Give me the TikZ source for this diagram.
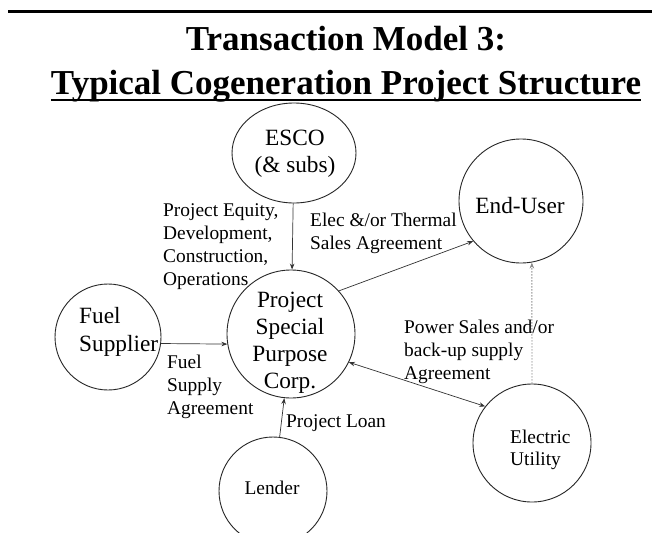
\documentclass[tikz,border=0pt]{standalone}
\usepackage{fontspec}
\setmainfont{Liberation Serif}
\usetikzlibrary{arrows.meta,shapes.geometric}
\begin{document}
\begin{tikzpicture}[x=1pt,y=-1pt,
  party/.style={draw=black!85, line width=0.9pt, inner sep=0pt},
  small/.style={inner sep=0pt, font=\fontsize{19.4}{22.7}\selectfont, align=left},
  big/.style={inner sep=0pt, font=\fontsize{23.3}{27}\selectfont},
  headline/.style={inner sep=0pt, font=\fontsize{35}{40}\selectfont\bfseries},
  tip/.tip={Stealth[length=6pt,width=4.5pt]},
  link/.style={draw=black!80, line width=0.7pt, -tip},
  backup/.style={draw=black!45, line width=0.9pt, dash pattern=on 1.5pt off 1.5pt, -tip}
]
\useasboundingbox[fill=white] (0,0) rectangle (652,532);

% heading
\draw[line width=3pt] (8,12) -- (652,12);
\node[headline, anchor=base] (t1) at (346,51) {Transaction Model 3:};
\node[headline, anchor=base] (t2) at (346,95) {Typical Cogeneration Project Structure};
\draw[line width=2.5pt] ([yshift=-5pt]t2.base west) -- ([yshift=-5pt]t2.base east);

% parties
\node[party, ellipse, minimum width=124pt, minimum height=100pt] (esco) at (294,153) {};
\node[party, circle, minimum size=128pt] (proj) at (291,334) {};
\node[party, circle, minimum size=106pt] (fuel) at (108,337) {};
\node[party, circle, minimum size=124pt] (eu) at (521,201) {};
\node[party, circle, minimum size=118pt] (elec) at (532,443) {};
\node[party, circle, minimum size=108pt] (lender) at (273,491) {};

% party names (multi-line nodes are placed by the baseline of their last line)
\node[big, align=center, anchor=base] (escoT) at (295,172) {ESCO\\(\& subs)};
\node[big, align=center, anchor=base] (projT) at (290,388) {Project\\Special\\Purpose\\Corp.};
\node[big, align=left, anchor=base west, font=\fontsize{23.3}{28}\selectfont] (fuelT) at (79,351) {Fuel\\Supplier};
\node[big, anchor=base] (euT) at (520,213) {End-User};
\node[small, anchor=base west, font=\fontsize{19.4}{22}\selectfont] (elecT) at (510,465) {Electric\\Utility};
\node[small, anchor=base] (lenderT) at (272,494) {Lender};

% agreements
\node[small, anchor=base west] (equity) at (163,285) {Project Equity,\\Development,\\Construction,\\Operations};
\node[small, anchor=base west, font=\fontsize{19.4}{23.5}\selectfont] (sales) at (310,249.5) {Elec \&/or Thermal\\Sales Agreement};
\node[small, anchor=base west, font=\fontsize{19.4}{23}\selectfont] (power) at (404,379) {Power Sales and/or\\back-up supply\\Agreement};
\node[small, anchor=base west, font=\fontsize{19.4}{23}\selectfont] (supply) at (167,414) {Fuel\\Supply\\Agreement};
\node[small, anchor=base west] (loan) at (286,427) {Project Loan};

% connectors
\draw[link] (esco) -- (proj);
\draw[link] (fuel.-7.6) -- (proj.189);
\draw[link] (lender.83.5) -- (proj.264);
\draw[link] (proj.42.5) -- (eu.220);
\draw[link, tip-tip] (proj.-26) -- (elec.142.5);
\draw[backup] (elec.north) -- (eu.-80);
\end{tikzpicture}
\end{document}
